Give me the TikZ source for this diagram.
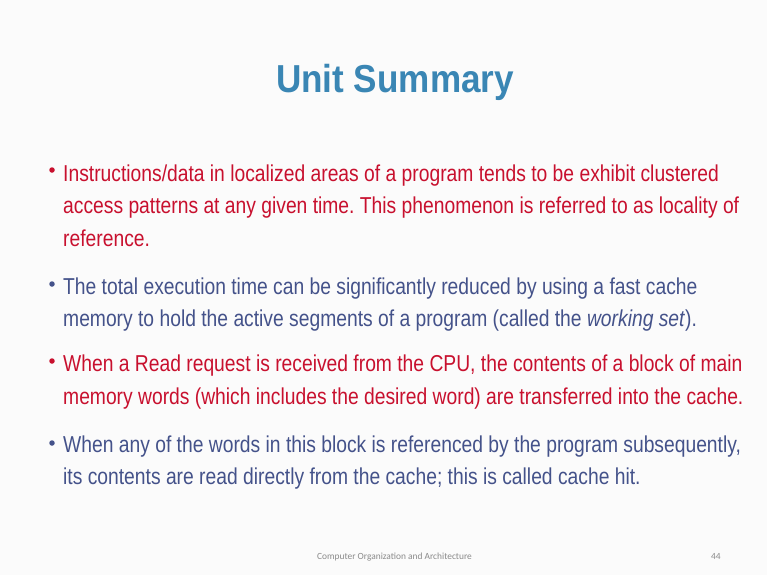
\documentclass[tikz,border=0pt]{standalone}
\usepackage{fontspec}
\setmainfont[FakeStretch=0.838]{Liberation Sans}
\newfontfamily\titlefont[FakeStretch=0.9]{Liberation Sans}
\newfontfamily\footfont{Carlito}
\definecolor{titleblue}{HTML}{3A86B4}
\definecolor{redtxt}{HTML}{C8102E}
\definecolor{bluetxt}{HTML}{44528A}
\definecolor{footgray}{HTML}{8A8A8A}
\definecolor{bg}{HTML}{FBFBFB}
\frenchspacing
\begin{document}
\begin{tikzpicture}[x=1pt,y=-1pt,
  line/.style={anchor=base west,inner sep=0pt,font=\fontsize{23}{26}\selectfont},
  red/.style={line,text=redtxt},
  blu/.style={line,text=bluetxt},
  dotr/.style={circle,fill=redtxt,inner sep=0pt,minimum size=5.5pt},
  dotb/.style={circle,fill=bluetxt,inner sep=0pt,minimum size=5.5pt}]
\fill[bg] (0,0) rectangle (767,575);
\useasboundingbox (0,0) rectangle (767,575);
\node[anchor=base,inner sep=0pt,text=titleblue,font=\titlefont\bfseries\fontsize{39}{44}\selectfont] (title) at (395,93) {Unit Summary};
% bullet 1
\node[dotr] (d1) at (52,170) {};
\node[red] (l11) at (63,181) {Instructions/data in localized areas of a program tends to be exhibit clustered};
\node[red] (l12) at (63,213) {access patterns at any given time. This phenomenon is referred to as locality of};
\node[red] (l13) at (63,246) {reference.};
% bullet 2
\node[dotb] (d2) at (52,284) {};
\node[blu] (l21) at (63,294) {The total execution time can be significantly reduced by using a fast cache};
\node[blu] (l22) at (63,326) {memory to hold the active segments of a program (called the \textit{working set}).};
% bullet 3
\node[dotr] (d3) at (52,361) {};
\node[red] (l31) at (63,371) {When a Read request is received from the CPU, the contents of a block of main};
\node[red] (l32) at (63,404) {memory words (which includes the desired word) are transferred into the cache.};
% bullet 4
\node[dotb] (d4) at (52,443) {};
\node[blu] (l41) at (63,452) {When any of the words in this block is referenced by the program subsequently,};
\node[blu] (l42) at (63,484) {its contents are read directly from the cache; this is called cache hit.};
% footer
\node[anchor=base west,inner sep=0pt,text=footgray,font=\footfont\fontsize{9.4}{10}\selectfont] (foot) at (317,559) {Computer Organization and Architecture};
\node[anchor=base west,inner sep=0pt,text=footgray,font=\footfont\fontsize{9.4}{10}\selectfont] (pg) at (711,559) {44};
\end{tikzpicture}
\end{document}
